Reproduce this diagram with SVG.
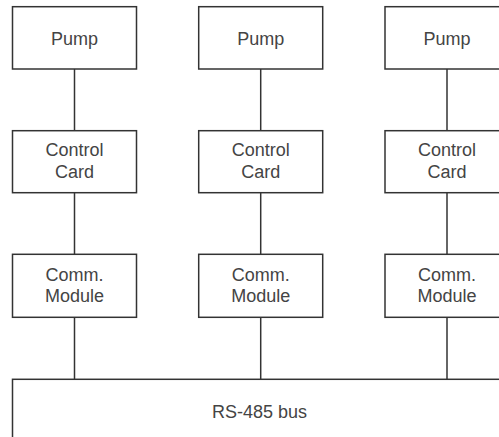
<svg xmlns="http://www.w3.org/2000/svg" width="499" height="437" viewBox="0 0 499 437">
<style>
.box{fill:#fff;stroke:#333;stroke-width:1.5}
.lbl{font-family:"Liberation Sans",Arial,sans-serif;font-size:18px;fill:#444;text-anchor:middle}
.conn line{stroke:#333;stroke-width:1.5}
</style>
<rect width="499" height="437" fill="#fff"/>
<g class="conn">
<line x1="74.5" y1="69" x2="74.5" y2="130.7"/>
<line x1="74.5" y1="192.7" x2="74.5" y2="254.3"/>
<line x1="74.5" y1="317.3" x2="74.5" y2="379.3"/>
<line x1="260.7" y1="69" x2="260.7" y2="130.7"/>
<line x1="260.7" y1="192.7" x2="260.7" y2="254.3"/>
<line x1="260.7" y1="317.3" x2="260.7" y2="379.3"/>
<line x1="447" y1="69" x2="447" y2="130.7"/>
<line x1="447" y1="192.7" x2="447" y2="254.3"/>
<line x1="447" y1="317.3" x2="447" y2="379.3"/>
</g>
<g id="pump1"><rect class="box" x="12.5" y="6.7" width="124" height="62.3"/><text class="lbl" x="74.5" y="44.7">Pump</text></g>
<g id="pump2"><rect class="box" x="198.7" y="6.7" width="124" height="62.3"/><text class="lbl" x="260.7" y="44.7">Pump</text></g>
<g id="pump3"><rect class="box" x="385" y="6.7" width="124" height="62.3"/><text class="lbl" x="447" y="44.7">Pump</text></g>
<g id="card1"><rect class="box" x="12.5" y="130.7" width="124" height="62"/><text class="lbl" x="74.5" y="156.3">Control</text><text class="lbl" x="74.5" y="177.9">Card</text></g>
<g id="card2"><rect class="box" x="198.7" y="130.7" width="124" height="62"/><text class="lbl" x="260.7" y="156.3">Control</text><text class="lbl" x="260.7" y="177.9">Card</text></g>
<g id="card3"><rect class="box" x="385" y="130.7" width="124" height="62"/><text class="lbl" x="447" y="156.3">Control</text><text class="lbl" x="447" y="177.9">Card</text></g>
<g id="comm1"><rect class="box" x="12.5" y="254.3" width="124" height="63"/><text class="lbl" x="74.5" y="280.7">Comm.</text><text class="lbl" x="74.5" y="302.3">Module</text></g>
<g id="comm2"><rect class="box" x="198.7" y="254.3" width="124" height="63"/><text class="lbl" x="260.7" y="280.7">Comm.</text><text class="lbl" x="260.7" y="302.3">Module</text></g>
<g id="comm3"><rect class="box" x="385" y="254.3" width="124" height="63"/><text class="lbl" x="447" y="280.7">Comm.</text><text class="lbl" x="447" y="302.3">Module</text></g>
<g id="bus"><rect class="box" x="12.5" y="379.3" width="496.5" height="64"/><text class="lbl" x="259.5" y="417.7">RS-485 bus</text></g>
</svg>
